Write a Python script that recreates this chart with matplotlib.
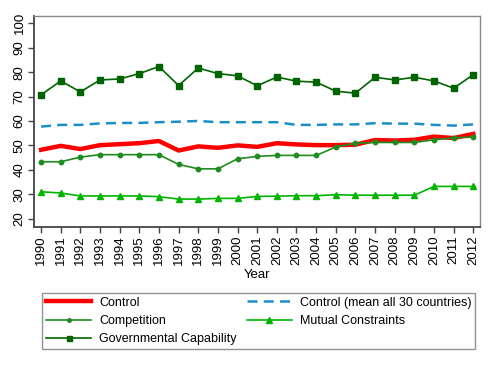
import matplotlib
matplotlib.use("Agg")
import matplotlib.pyplot as plt

plt.rcParams['font.family'] = ['Liberation Sans', 'DejaVu Sans']

years = list(range(1990, 2013))
control = [48.2, 49.8, 48.5, 50.1, 50.5, 50.9, 51.8, 47.9, 49.6, 49.0, 50.0,
           49.4, 50.9, 50.4, 50.1, 50.1, 50.3, 52.2, 52.0, 52.3, 53.6, 53.0, 54.7]
control_mean = [57.7, 58.4, 58.4, 59.0, 59.2, 59.2, 59.5, 59.7, 60.0, 59.5, 59.5,
                59.5, 59.5, 58.4, 58.4, 58.6, 58.6, 59.1, 58.9, 58.9, 58.4, 58.1, 58.6]
competition = [43.3, 43.3, 45.2, 46.2, 46.2, 46.2, 46.2, 42.2, 40.4, 40.4, 44.5,
               45.5, 45.9, 45.9, 45.9, 49.3, 50.9, 51.2, 51.2, 51.2, 52.3, 53.1, 53.4]
mutual = [31.0, 30.5, 29.3, 29.3, 29.3, 29.3, 29.0, 28.0, 28.0, 28.3, 28.3,
          29.1, 29.2, 29.4, 29.4, 29.8, 29.6, 29.6, 29.6, 29.6, 33.2, 33.2, 33.2]
gov_cap = [70.7, 76.4, 71.9, 76.8, 77.2, 79.4, 82.3, 74.5, 81.7, 79.4, 78.5,
           74.4, 78.0, 76.3, 75.9, 72.2, 71.4, 77.9, 76.8, 77.9, 76.4, 73.4, 79.0]
yticks = [20, 30, 40, 50, 60, 70, 80, 90, 100]

fig = plt.figure(figsize=(4.9, 3.66), dpi=100)
ax = fig.add_axes([0.0694, 0.3806, 0.9102, 0.5764])

h_ctrl, = ax.plot(years, control, color='#ff0000', lw=3.2, label='Control', zorder=3)
h_mean, = ax.plot(years, control_mean, color='#1a8fc7', lw=1.8, ls=(0, (4, 2.5)),
                  label='Control (mean all 30 countries)', zorder=2)
h_comp, = ax.plot(years, competition, color='#1e8c1e', lw=1.2, marker='o', ms=3.2,
                  label='Competition', zorder=4)
h_mut, = ax.plot(years, mutual, color='#00b400', lw=1.2, marker='^', ms=5,
                 label='Mutual Constraints', zorder=2)
h_gov, = ax.plot(years, gov_cap, color='#006400', lw=1.2, marker='s', ms=4.5,
                 label='Governmental Capability', zorder=2)

ax.set_xlim(1989.64, 2012.34)
ax.set_ylim(16.7, 103.1)
ax.set_xticks(years)
ax.set_xticklabels([str(y) for y in years], rotation=90, fontsize=9.5)
ax.set_yticks(yticks)
ax.set_yticklabels([str(v) for v in yticks], rotation=90, fontsize=9.5, va='center')
ax.tick_params(direction='out', length=4, width=1, color='#444444', pad=2)
for side in ['top', 'right']:
    ax.spines[side].set_color('#888888')
    ax.spines[side].set_linewidth(1)
for side in ['left', 'bottom']:
    ax.spines[side].set_color('#444444')
    ax.spines[side].set_linewidth(1.3)
ax.set_xlabel('Year', fontsize=9.5, labelpad=3)

hs = [h_ctrl, h_comp, h_gov, h_mean, h_mut]
leg = fig.legend(hs, [h.get_label() for h in hs],
                 loc='upper left', bbox_to_anchor=(0.0735, 0.2164), ncol=2,
                 fontsize=9, frameon=True, fancybox=False, edgecolor='#777777',
                 handlelength=3.6, columnspacing=0.8, borderpad=0.3,
                 labelspacing=0.5, handletextpad=0.65, markerscale=0.8)
leg.get_frame().set_linewidth(1)

fig.savefig('out.png', dpi=100)
